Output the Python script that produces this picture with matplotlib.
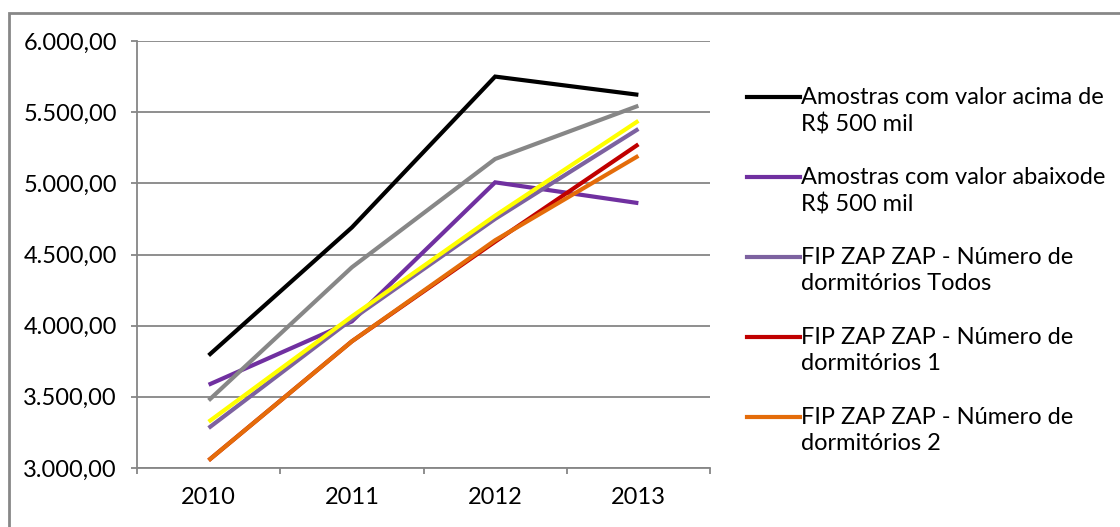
import matplotlib
matplotlib.use("Agg")
import matplotlib.pyplot as plt
from matplotlib.lines import Line2D
from matplotlib.patches import Rectangle
from matplotlib.ticker import FixedLocator, FuncFormatter, NullFormatter

plt.rcParams['font.family'] = ['Lato', 'DejaVu Sans']

years = ["2010", "2011", "2012", "2013"]

acima_500 = [3791, 4690, 5750, 5622]
abaixo_500 = [3585, 4030, 5007, 4861]
fip_todos = [3281, 4045, 4750, 5382]
fip_dorm1 = [3054, 3890, 4590, 5274]
fip_dorm2 = [3054, 3890, 4600, 5193]
fip_dorm3 = [3475, 4410, 5171, 5545]
fip_dorm4 = [3325, 4065, 4773, 5439]

series = [
    ("Amostras com valor acima de\nR$ 500 mil", acima_500, "#000000"),
    ("Amostras com valor abaixode\nR$ 500 mil", abaixo_500, "#7030a0"),
    ("FIP ZAP ZAP - Número de\ndormitórios Todos", fip_todos, "#7d62a0"),
    ("FIP ZAP ZAP - Número de\ndormitórios 1", fip_dorm1, "#c00000"),
    ("FIP ZAP ZAP - Número de\ndormitórios 2", fip_dorm2, "#e46c0a"),
    ("FIP ZAP ZAP - Número de\ndormitórios 3", fip_dorm3, "#878787"),
    ("FIP ZAP ZAP - Número de\ndormitórios 4", fip_dorm4, "#ffff00"),
]
legend_count = 5

W, H = 1120, 527
fig = plt.figure(figsize=(W / 100, H / 100), dpi=100)
ax = fig.add_axes([137 / W, 1 - 468 / H, (710 - 137) / W, (468 - 41) / H])

grid_col = "#868686"
x = list(range(len(years)))
for label, vals, col in series:
    ax.plot(x, vals, color=col, lw=3.0, solid_capstyle="butt",
            solid_joinstyle="miter", zorder=3)

ax.set_xlim(-0.5, len(years) - 0.5)
ax.set_ylim(3000, 6000)
ax.set_yticks([3000, 3500, 4000, 4500, 5000, 5500, 6000])


def br_fmt(v, pos):
    s = f"{v:,.2f}"
    return s.replace(",", "#").replace(".", ",").replace("#", ".")


ax.yaxis.set_major_formatter(FuncFormatter(br_fmt))
ax.yaxis.grid(True, color=grid_col, lw=1.3)
ax.set_axisbelow(True)

ax.xaxis.set_major_locator(FixedLocator([i - 0.5 for i in range(len(years) + 1)]))
ax.xaxis.set_major_formatter(NullFormatter())
ax.xaxis.set_minor_locator(FixedLocator(x))
ax.set_xticklabels(years, minor=True)
ax.tick_params(axis="x", which="minor", length=0, pad=14, labelsize=17)
ax.tick_params(axis="x", which="major", length=4, width=1.3, color=grid_col)
ax.tick_params(axis="y", length=4, width=1.3, color=grid_col, pad=10.5, labelsize=17)

for side in ("top", "right"):
    ax.spines[side].set_visible(False)
for side in ("left", "bottom"):
    ax.spines[side].set_color(grid_col)
    ax.spines[side].set_linewidth(1.3)

# legend entries: sample line beside the first text row
row0 = 97
step = 80
for i, (label, vals, col) in enumerate(series[:legend_count]):
    yc = 1 - (row0 + i * step) / H
    fig.add_artist(Line2D([747 / W, 800 / W], [yc, yc], color=col, lw=3.0,
                          transform=fig.transFigure))
    fig.text(801 / W, yc + 10 / H, label, ha="left", va="top", fontsize=17,
             linespacing=1.3, color="#000000")

# outer chart frame
fig.add_artist(Rectangle((9 / W, -0.1), 1.2, 1.1 - 13 / H, transform=fig.transFigure,
                         fill=False, edgecolor="#878787", lw=2.0))

fig.savefig("out.png", dpi=100)
